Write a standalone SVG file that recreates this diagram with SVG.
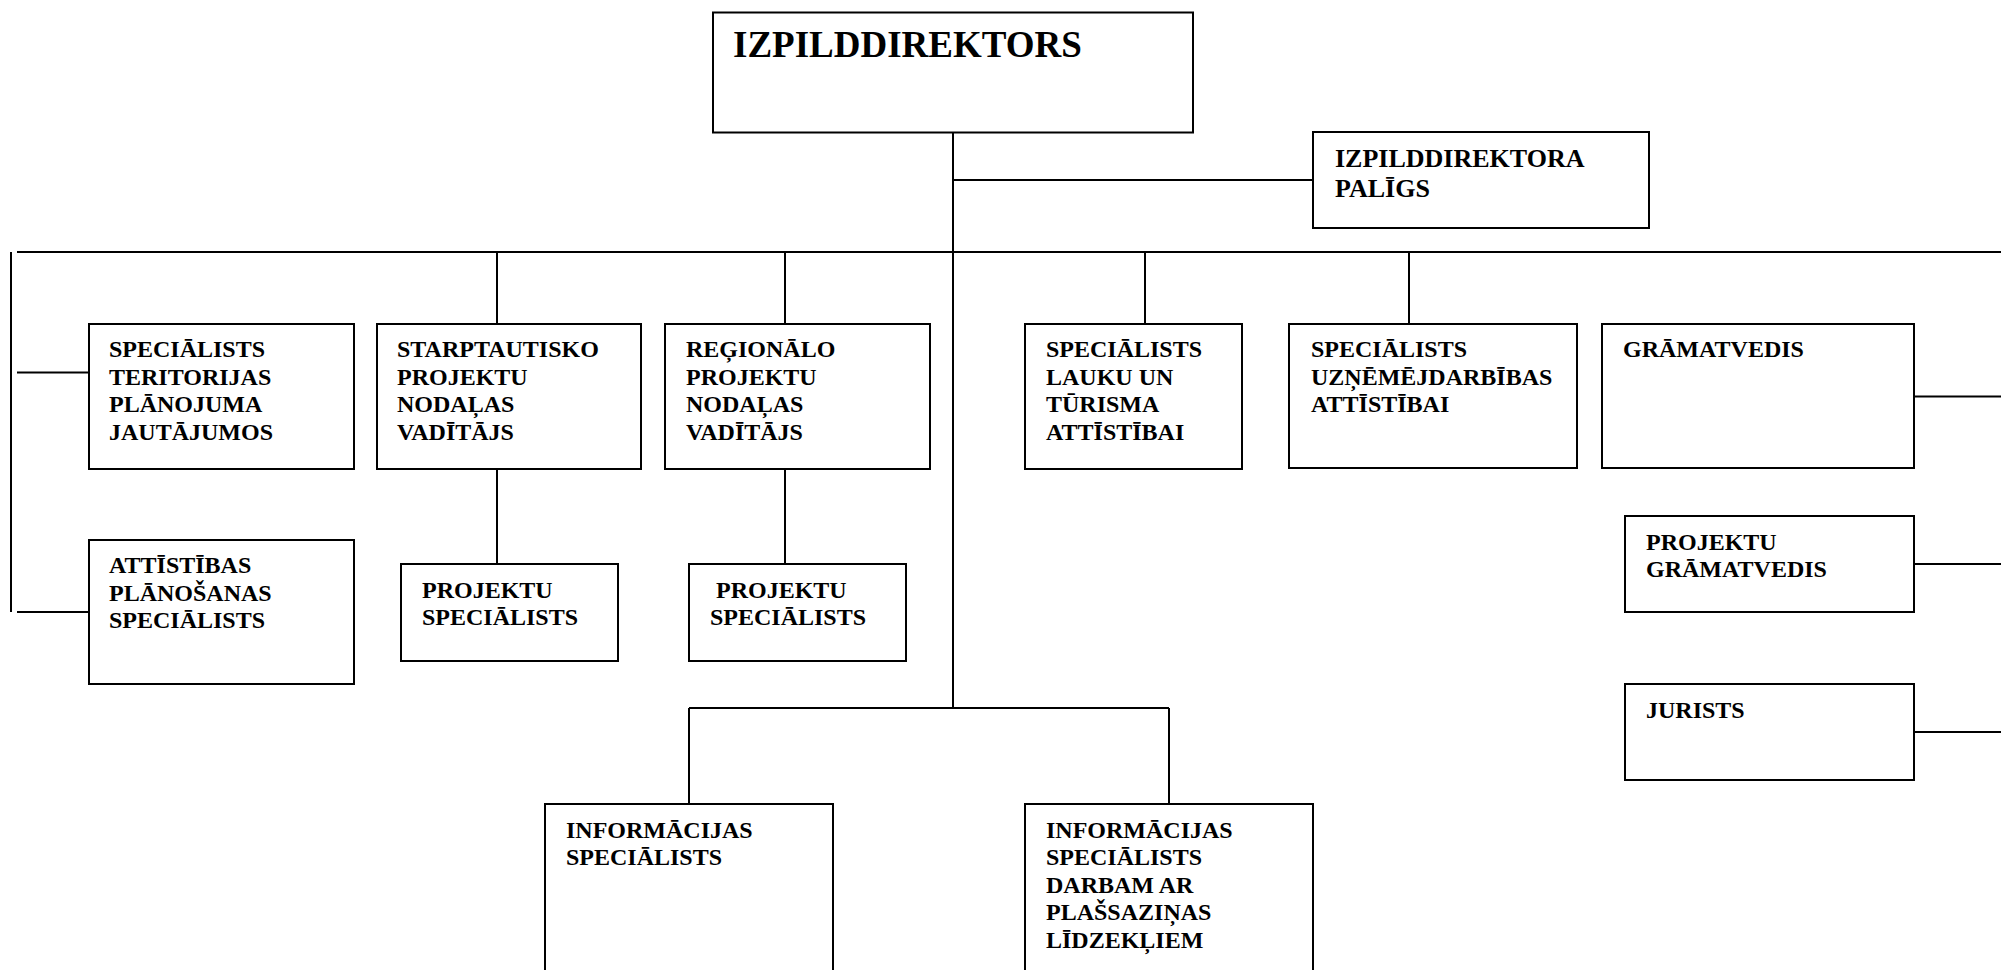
<svg xmlns="http://www.w3.org/2000/svg" width="2001" height="970" viewBox="0 0 2001 970">
<style>
  .box { fill: #ffffff; stroke: #000000; stroke-width: 2; }
  .ln { fill: none; stroke: #000000; stroke-width: 2; }
  text { font-family: "Liberation Serif", "Times New Roman", serif; font-weight: bold; fill: #000000; }
  .t24 { font-size: 24px; }
  .t26 { font-size: 26px; }
  .t37 { font-size: 37px; }
</style>
<rect x="0" y="0" width="2001" height="970" fill="#ffffff"/>
<g id="connectors">
  <line class="ln" x1="953" y1="132" x2="953" y2="708"/>
  <line class="ln" x1="953" y1="180" x2="1313" y2="180"/>
  <line class="ln" x1="17" y1="252" x2="2001" y2="252"/>
  <line class="ln" x1="11" y1="252" x2="11" y2="612"/>
  <line class="ln" x1="17" y1="372.5" x2="89" y2="372.5"/>
  <line class="ln" x1="17" y1="612" x2="89" y2="612"/>
  <line class="ln" x1="497" y1="252" x2="497" y2="324"/>
  <line class="ln" x1="497" y1="469" x2="497" y2="564"/>
  <line class="ln" x1="785" y1="252" x2="785" y2="324"/>
  <line class="ln" x1="785" y1="469" x2="785" y2="564"/>
  <line class="ln" x1="1145" y1="252" x2="1145" y2="324"/>
  <line class="ln" x1="1409" y1="252" x2="1409" y2="324"/>
  <line class="ln" x1="1914" y1="396.5" x2="2001" y2="396.5"/>
  <line class="ln" x1="1914" y1="564" x2="2001" y2="564"/>
  <line class="ln" x1="1914" y1="732" x2="2001" y2="732"/>
  <line class="ln" x1="689" y1="708" x2="1169" y2="708"/>
  <line class="ln" x1="689" y1="708" x2="689" y2="804"/>
  <line class="ln" x1="1169" y1="708" x2="1169" y2="804"/>
</g>
<g id="izpilddirektors">
  <rect class="box" x="713" y="12.5" width="480" height="120"/>
  <text class="t37" x="733" y="57">IZPILDDIREKTORS</text>
</g>
<g id="izpilddirektora-paligs">
  <rect class="box" x="1313" y="132" width="336" height="96"/>
  <text class="t26" x="1335" y="166.5">IZPILDDIREKTORA</text>
  <text class="t26" x="1335" y="197">PALĪGS</text>
</g>
<g id="specialists-teritorijas">
  <rect class="box" x="89" y="324" width="265" height="145"/>
  <text class="t24" x="109" y="357">SPECIĀLISTS</text>
  <text class="t24" x="109" y="384.5">TERITORIJAS</text>
  <text class="t24" x="109" y="412">PLĀNOJUMA</text>
  <text class="t24" x="109" y="439.5">JAUTĀJUMOS</text>
</g>
<g id="attistibas-planosanas">
  <rect class="box" x="89" y="540" width="265" height="144"/>
  <text class="t24" x="109" y="573">ATTĪSTĪBAS</text>
  <text class="t24" x="109" y="600.5">PLĀNOŠANAS</text>
  <text class="t24" x="109" y="628">SPECIĀLISTS</text>
</g>
<g id="starptautisko-vaditajs">
  <rect class="box" x="377" y="324" width="264" height="145"/>
  <text class="t24" x="397" y="357">STARPTAUTISKO</text>
  <text class="t24" x="397" y="384.5">PROJEKTU</text>
  <text class="t24" x="397" y="412">NODAĻAS</text>
  <text class="t24" x="397" y="439.5">VADĪTĀJS</text>
</g>
<g id="projektu-specialists-1">
  <rect class="box" x="401" y="564" width="217" height="97"/>
  <text class="t24" x="422" y="597.5">PROJEKTU</text>
  <text class="t24" x="422" y="625">SPECIĀLISTS</text>
</g>
<g id="regionalo-vaditajs">
  <rect class="box" x="665" y="324" width="265" height="145"/>
  <text class="t24" x="686" y="357">REĢIONĀLO</text>
  <text class="t24" x="686" y="384.5">PROJEKTU</text>
  <text class="t24" x="686" y="412">NODAĻAS</text>
  <text class="t24" x="686" y="439.5">VADĪTĀJS</text>
</g>
<g id="projektu-specialists-2">
  <rect class="box" x="689" y="564" width="217" height="97"/>
  <text class="t24" x="716" y="597.5">PROJEKTU</text>
  <text class="t24" x="710" y="625">SPECIĀLISTS</text>
</g>
<g id="specialists-lauku">
  <rect class="box" x="1025" y="324" width="217" height="145"/>
  <text class="t24" x="1046" y="357">SPECIĀLISTS</text>
  <text class="t24" x="1046" y="384.5">LAUKU UN</text>
  <text class="t24" x="1046" y="412">TŪRISMA</text>
  <text class="t24" x="1046" y="439.5">ATTĪSTĪBAI</text>
</g>
<g id="specialists-uznemejdarbibas">
  <rect class="box" x="1289" y="324" width="288" height="144"/>
  <text class="t24" x="1311" y="357">SPECIĀLISTS</text>
  <text class="t24" x="1311" y="384.5">UZŅĒMĒJDARBĪBAS</text>
  <text class="t24" x="1311" y="412">ATTĪSTĪBAI</text>
</g>
<g id="gramatvedis">
  <rect class="box" x="1602" y="324" width="312" height="144"/>
  <text class="t24" x="1623" y="357">GRĀMATVEDIS</text>
</g>
<g id="projektu-gramatvedis">
  <rect class="box" x="1625" y="516" width="289" height="96"/>
  <text class="t24" x="1646" y="549.5">PROJEKTU</text>
  <text class="t24" x="1646" y="577">GRĀMATVEDIS</text>
</g>
<g id="jurists">
  <rect class="box" x="1625" y="684" width="289" height="96"/>
  <text class="t24" x="1646" y="717.5">JURISTS</text>
</g>
<g id="informacijas-specialists">
  <rect class="box" x="545" y="804" width="288" height="200"/>
  <text class="t24" x="566" y="837.5">INFORMĀCIJAS</text>
  <text class="t24" x="566" y="865">SPECIĀLISTS</text>
</g>
<g id="informacijas-specialists-plassazinas">
  <rect class="box" x="1025" y="804" width="288" height="200"/>
  <text class="t24" x="1046" y="837.5">INFORMĀCIJAS</text>
  <text class="t24" x="1046" y="865">SPECIĀLISTS</text>
  <text class="t24" x="1046" y="892.5">DARBAM AR</text>
  <text class="t24" x="1046" y="920">PLAŠSAZIŅAS</text>
  <text class="t24" x="1046" y="947.5">LĪDZEKĻIEM</text>
</g>
</svg>
